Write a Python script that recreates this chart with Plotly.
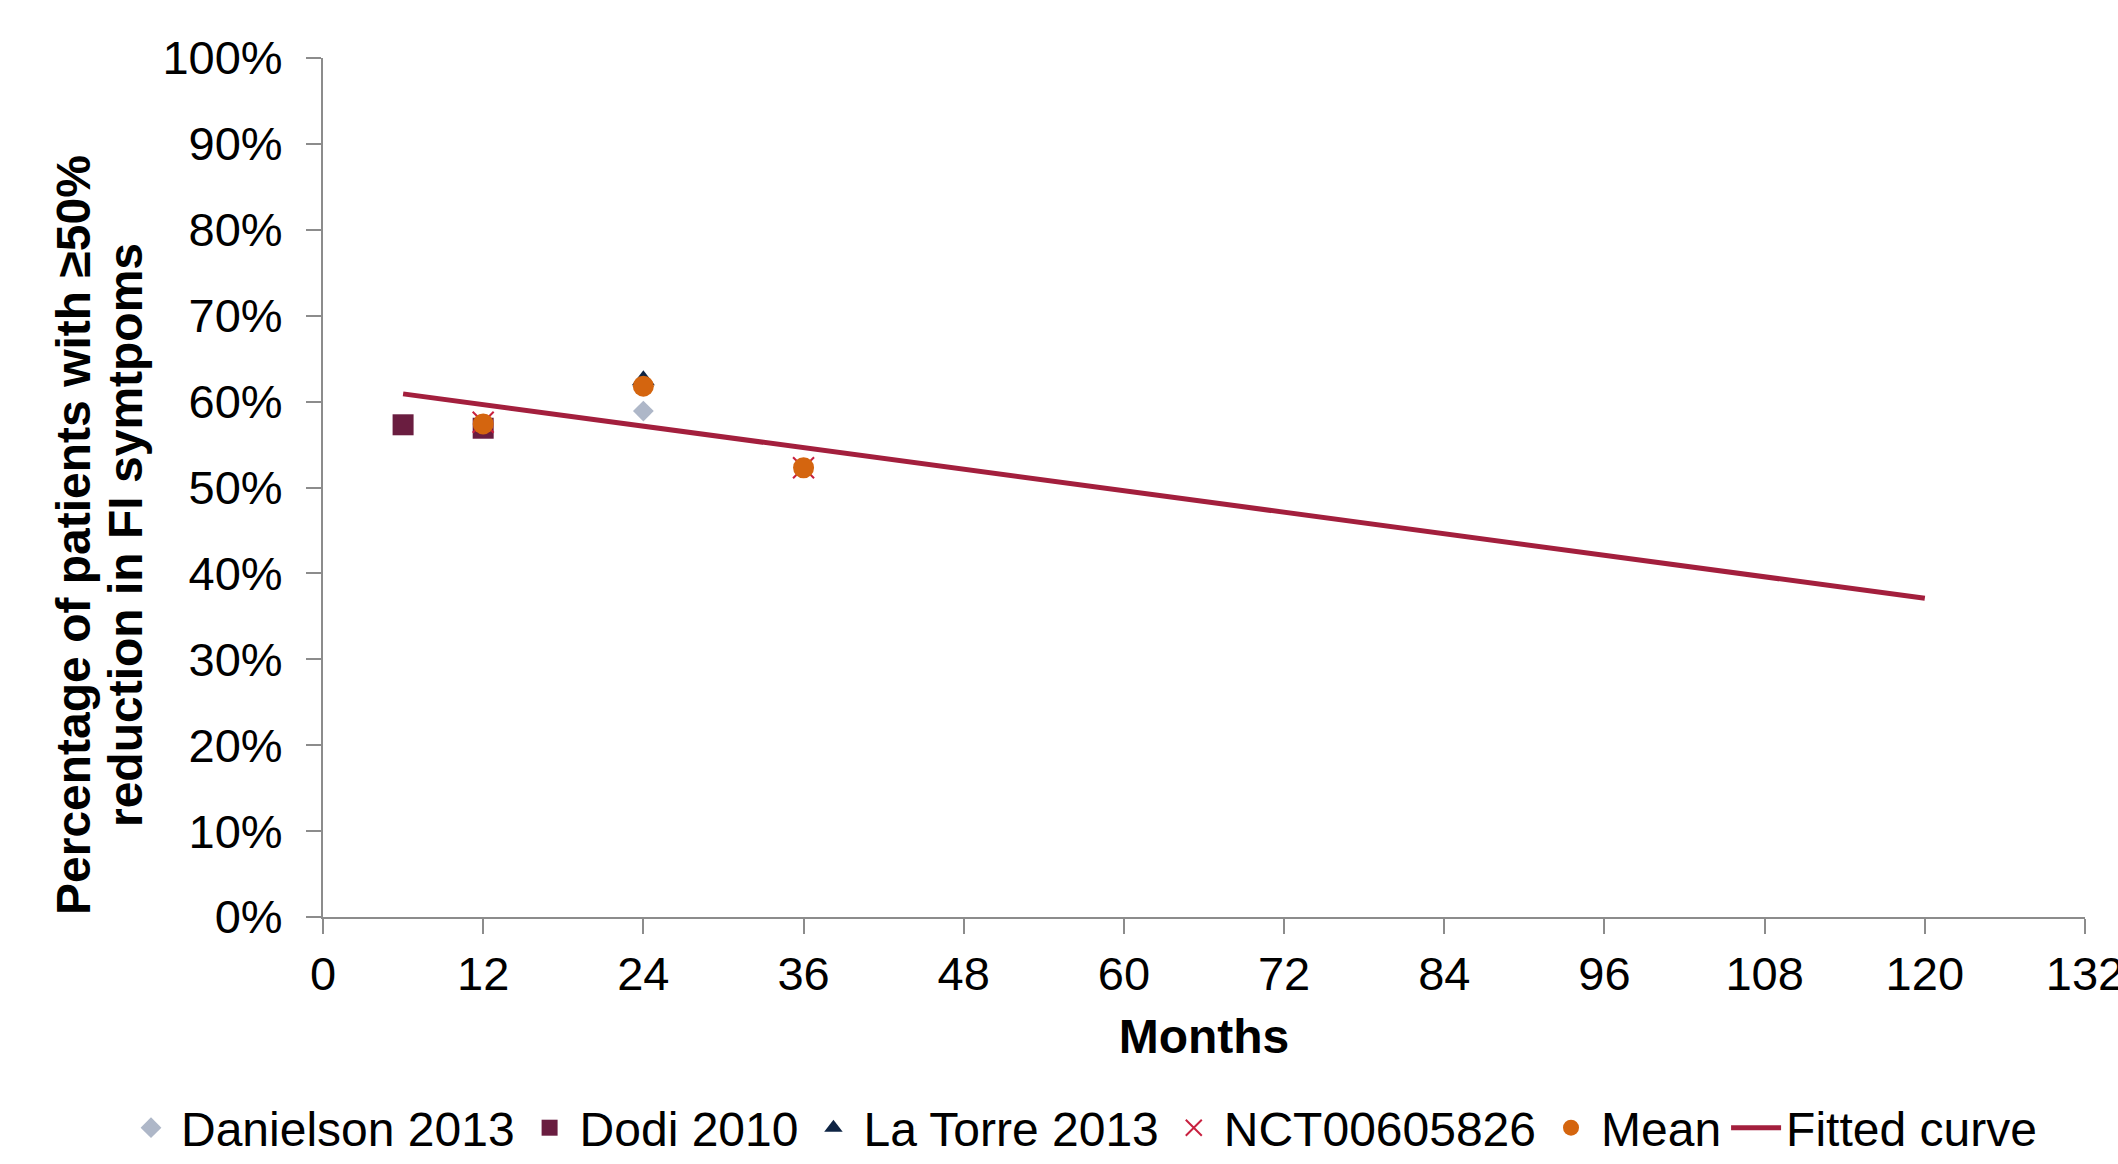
import plotly.graph_objects as go

# Data
danielson_x = [24]
danielson_y = [0.589]
dodi_x = [6, 12]
dodi_y = [0.573, 0.569]
latorre_x = [24]
latorre_y = [0.625]
nct_x = [12, 36]
nct_y = [0.576, 0.523]
mean_x = [12, 24, 36]
mean_y = [0.574, 0.618, 0.523]
fit_x = [6, 120]
fit_y = [0.609, 0.371]

x_ticks = list(range(0, 133, 12))
y_ticks = [i / 10 for i in range(0, 11)]

y_title_lines = ["Percentage of patients with ≥50%", "reduction in FI symtpoms"]

FONT = "Liberation Sans, Arial, sans-serif"

fig = go.Figure()
fig.add_trace(go.Scatter(x=danielson_x, y=danielson_y, mode="markers", name="Danielson 2013",
                         marker=dict(symbol="diamond", size=16, color="#AEB7C8")))
fig.add_trace(go.Scatter(x=dodi_x, y=dodi_y, mode="markers", name="Dodi 2010",
                         marker=dict(symbol="square", size=21, color="#6A1D40")))
fig.add_trace(go.Scatter(x=latorre_x, y=latorre_y, mode="markers", name="La Torre 2013",
                         marker=dict(symbol="triangle-up", size=20, color="#0E2444")))
fig.add_trace(go.Scatter(x=nct_x, y=nct_y, mode="markers", name="NCT00605826",
                         marker=dict(symbol="x-thin-open", size=21, color="#C8203F",
                                     line=dict(width=2, color="#C8203F"))))
fig.add_trace(go.Scatter(x=mean_x, y=mean_y, mode="markers", name="Mean",
                         marker=dict(symbol="circle", size=21, color="#D4650F")))
fig.add_trace(go.Scatter(x=fit_x, y=fit_y, mode="lines", name="Fitted curve",
                         line=dict(color="#A31F3D", width=5)))

axis_common = dict(showgrid=False, zeroline=False, showline=True, linecolor="#8C8C8C",
                   linewidth=2, ticks="outside", ticklen=15, tickwidth=2, tickcolor="#8C8C8C",
                   tickfont=dict(family=FONT, size=47, color="#000000"),
                   ticklabeloverflow="allow", automargin=False)

fig.update_xaxes(range=[0, 132], tickvals=x_ticks, ticktext=[str(v) for v in x_ticks],
                 title=dict(text="<b>Months</b>", font=dict(family=FONT, size=48, color="#000"),
                            standoff=20),
                 **axis_common)
fig.update_yaxes(range=[0, 1], tickvals=y_ticks, ticktext=[f"{int(round(v*100))}%" for v in y_ticks],
                 ticklabelstandoff=14,
                 **axis_common)

# Y axis title as two rotated lines
for line, xpx in zip(y_title_lines, [73, 125]):
    fig.add_annotation(text=f"<b>{line}</b>", textangle=-90, showarrow=False,
                       xref="paper", yref="paper",
                       x=(xpx - 323) / 1762, y=(917 - 535) / 859,
                       xanchor="center", yanchor="middle",
                       font=dict(family=FONT, size=48, color="#000"))

fig.update_layout(
    width=2118, height=1164,
    margin=dict(l=323, r=33, t=58, b=247, autoexpand=False),
    plot_bgcolor="white", paper_bgcolor="white",
    font=dict(family=FONT, color="#000"),
    legend=dict(orientation="h", xref="paper", x=(121 - 323) / 1762, xanchor="left",
                yref="paper", y=(917 - 1128) / 859, yanchor="middle",
                font=dict(family=FONT, size=48, color="#000"),
                itemwidth=50, traceorder="normal"),
    showlegend=True,
)

fig.write_html("out.html")
